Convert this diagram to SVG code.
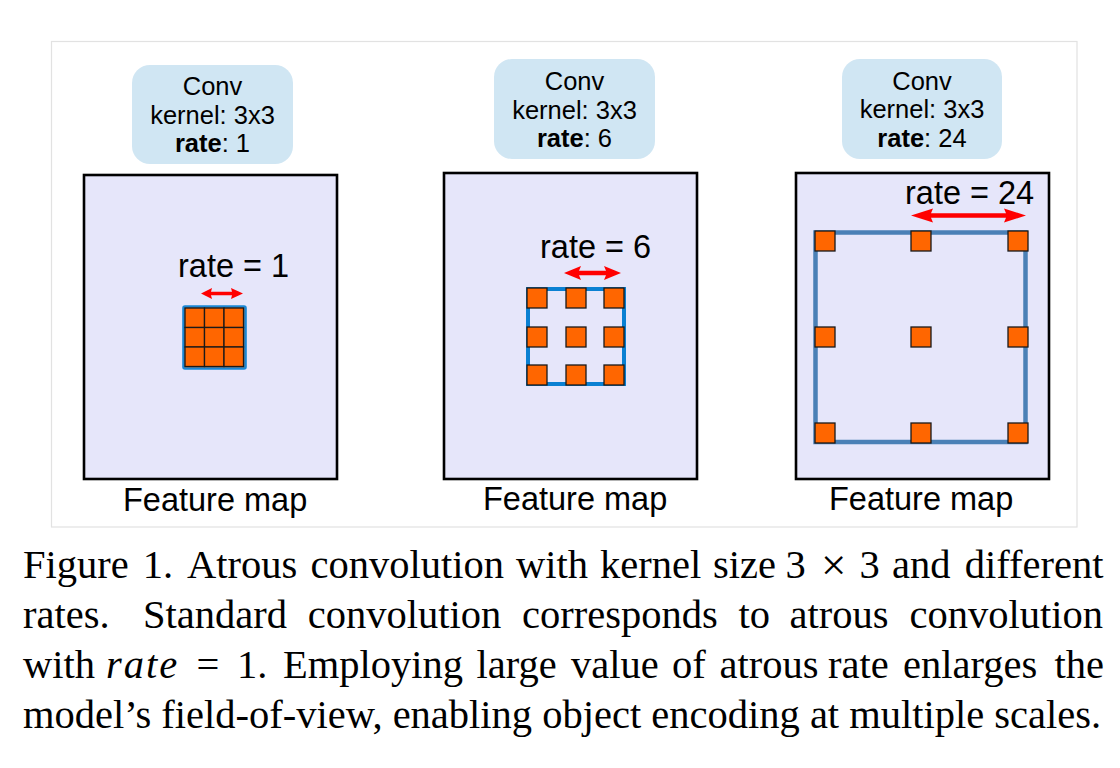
<svg xmlns="http://www.w3.org/2000/svg" width="1120" height="768" viewBox="0 0 1120 768">
<style>
.frame{fill:#fff;stroke:#e2e2e2;stroke-width:1.2}
.conv{fill:#d0e6f3}
.conv text{font-family:"Liberation Sans",Arial,sans-serif;font-size:25.5px;fill:#000;text-anchor:middle}
.fm{fill:#e6e6fa;stroke:#000;stroke-width:2.6}
.lbl{font-family:"Liberation Sans",Arial,sans-serif;font-size:32.5px;fill:#000}
.cap{font-family:"Liberation Serif","Times New Roman",serif;font-size:40.5px;fill:#000}
.cell{fill:#ff6600;stroke:#1a1a1a;stroke-width:1.3}
.arr{fill:#ff0000}
</style>
<rect class="frame" x="51.5" y="41.5" width="1025.5" height="485.5"/>

<g id="panel1">
  <g id="conv1" class="conv">
    <rect x="132" y="65" width="161" height="99" rx="18"/>
    <text x="212.5" y="95">Conv</text>
    <text x="212.5" y="123.5">kernel: 3x3</text>
    <text x="212.5" y="152"><tspan font-weight="bold">rate</tspan>: 1</text>
  </g>
  <rect class="fm" x="84" y="175" width="253" height="304"/>
  <text class="lbl" x="178" y="277">rate = 1</text>
  <rect x="183.5" y="306.5" width="62" height="62" rx="1.5" fill="#ff6600" stroke="#1a87d4" stroke-width="2.6"/>
  <g id="kernel1">
    <rect class="cell" x="185" y="308" width="19.5" height="19.5"/>
    <rect class="cell" x="204.5" y="308" width="19.5" height="19.5"/>
    <rect class="cell" x="224" y="308" width="19.5" height="19.5"/>
    <rect class="cell" x="185" y="327.5" width="19.5" height="19.5"/>
    <rect class="cell" x="204.5" y="327.5" width="19.5" height="19.5"/>
    <rect class="cell" x="224" y="327.5" width="19.5" height="19.5"/>
    <rect class="cell" x="185" y="347" width="19.5" height="19.5"/>
    <rect class="cell" x="204.5" y="347" width="19.5" height="19.5"/>
    <rect class="cell" x="224" y="347" width="19.5" height="19.5"/>
  </g>
  <text class="lbl" x="123" y="511">Feature map</text>
</g>

<g id="panel2">
  <g id="conv2" class="conv">
    <rect x="494" y="59" width="161" height="100" rx="18"/>
    <text x="574.5" y="90">Conv</text>
    <text x="574.5" y="118.5">kernel: 3x3</text>
    <text x="574.5" y="147"><tspan font-weight="bold">rate</tspan>: 6</text>
  </g>
  <rect class="fm" x="444" y="173" width="253" height="306"/>
  <text class="lbl" x="540" y="258">rate = 6</text>
  <rect x="528" y="289" width="96" height="95" fill="none" stroke="#0a80d2" stroke-width="4"/>
  <g id="kernel2">
    <rect class="cell" x="527" y="288" width="20" height="20"/>
    <rect class="cell" x="566" y="288" width="20" height="20"/>
    <rect class="cell" x="604" y="288" width="20" height="20"/>
    <rect class="cell" x="527" y="327" width="20" height="20"/>
    <rect class="cell" x="566" y="327" width="20" height="20"/>
    <rect class="cell" x="604" y="327" width="20" height="20"/>
    <rect class="cell" x="527" y="365" width="20" height="20"/>
    <rect class="cell" x="566" y="365" width="20" height="20"/>
    <rect class="cell" x="604" y="365" width="20" height="20"/>
  </g>
  <text class="lbl" x="483" y="510">Feature map</text>
</g>

<g id="panel3">
  <g id="conv3" class="conv">
    <rect x="842" y="59" width="160" height="100" rx="18"/>
    <text x="922" y="89.5">Conv</text>
    <text x="922" y="118">kernel: 3x3</text>
    <text x="922" y="147"><tspan font-weight="bold">rate</tspan>: 24</text>
  </g>
  <rect class="fm" x="796" y="173" width="253" height="306"/>
  <text class="lbl" x="905" y="204">rate = 24</text>
  <rect x="815.5" y="232.5" width="210" height="209.5" fill="none" stroke="#4a80b6" stroke-width="4.5"/>
  <g id="kernel3">
    <rect class="cell" x="815" y="231" width="20" height="20"/>
    <rect class="cell" x="911" y="231" width="20" height="20"/>
    <rect class="cell" x="1008" y="231" width="20" height="20"/>
    <rect class="cell" x="815" y="327" width="20" height="20"/>
    <rect class="cell" x="911" y="327" width="20" height="20"/>
    <rect class="cell" x="1008" y="327" width="20" height="20"/>
    <rect class="cell" x="815" y="423" width="20" height="20"/>
    <rect class="cell" x="911" y="423" width="20" height="20"/>
    <rect class="cell" x="1008" y="423" width="20" height="20"/>
  </g>
  <text class="lbl" x="829" y="510">Feature map</text>
</g>

<g id="connectors">
  <path class="arr" d="M201,293.5 L212,288 L211,291.8 L232,291.8 L231,288 L243,293.5 L231,299 L232,295.2 L211,295.2 L212,299 Z"/>
  <path class="arr" d="M564,273 L581,266 L579,270.8 L606,270.8 L604,266 L621,273 L604,280 L606,275.2 L579,275.2 L581,280 Z"/>
  <path class="arr" d="M911,215.5 L933,208.5 L931,213.2 L1006,213.2 L1004,208.5 L1026,215.5 L1004,222.5 L1006,217.8 L931,217.8 L933,222.5 Z"/>
</g>

<g id="caption" class="cap">
  <text y="578"><tspan x="23">Figure</tspan> <tspan x="142.7">1.</tspan> <tspan x="187.1">Atrous</tspan> <tspan x="310.5">convolution</tspan> <tspan x="516">with</tspan> <tspan x="600">kernel</tspan> <tspan x="713">size</tspan> <tspan x="785.5">3</tspan> <tspan x="821" y="580" font-size="45">×</tspan> <tspan x="859.5" y="578">3</tspan> <tspan x="892">and</tspan> <tspan x="964.8">different</tspan></text>
  <text y="628"><tspan x="23">rates.</tspan> <tspan x="143">Standard</tspan> <tspan x="307.8">convolution</tspan> <tspan x="522">corresponds</tspan> <tspan x="738.5">to</tspan> <tspan x="789.5">atrous</tspan> <tspan x="909.5">convolution</tspan></text>
  <text y="678"><tspan x="23">with</tspan> <tspan x="106" font-style="italic" letter-spacing="2">rate</tspan> <tspan x="196.5">=</tspan> <tspan x="237">1.</tspan> <tspan x="283">Employing</tspan> <tspan x="476.5">large</tspan> <tspan x="571">value</tspan> <tspan x="672">of</tspan> <tspan x="719.5">atrous</tspan> <tspan x="828">rate</tspan> <tspan x="903">enlarges</tspan> <tspan x="1054.5">the</tspan></text>
  <text x="23" y="728">model’s field-of-view, enabling object encoding at multiple scales.</text>
</g>
</svg>
